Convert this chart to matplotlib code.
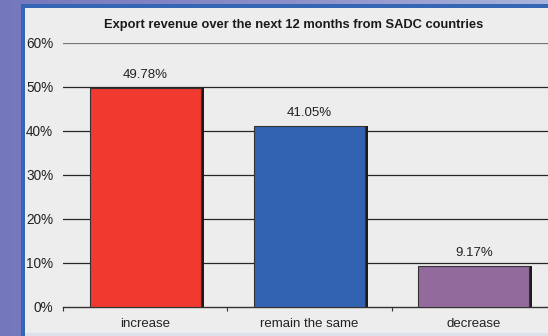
import matplotlib.pyplot as plt
import numpy as np
from matplotlib.patches import Rectangle

plt.rcParams['font.family'] = ['Liberation Sans', 'DejaVu Sans']

categories = ['increase', 'remain the same', 'decrease']
shares = [49.78, 41.05, 9.17]
colors = ['#f03a2f', '#3263b0', '#926a9c']
yticks = [0, 10, 20, 30, 40, 50, 60]
title = 'Export revenue over the next 12 months from SADC countries'

W, H = 548, 336
fig = plt.figure(figsize=(W / 100, H / 100), dpi=100)

# backdrop: purple gradient, blue frame, grey panel
bg = fig.add_axes([0, 0, 1, 1])
bg.set_xlim(0, W)
bg.set_ylim(H, 0)
bg.axis('off')
grad = np.linspace(0, 1, 256)[None, :]
bg.imshow(grad, extent=[0, W, H, 0], aspect='auto',
          cmap=plt.matplotlib.colors.LinearSegmentedColormap.from_list(
              'bgp', ['#7577bd', '#8a8ec8', '#aab4dc']))
bg.add_patch(Rectangle((21, 4), W, H, color='#3466b4', lw=0))
bg.add_patch(Rectangle((25, 8), W, 325, color='#ededed', lw=0))
bg.add_patch(Rectangle((25, 333), W, 3, color='#dde0e8', lw=0))

x0, x1 = 63, 556
ytop, ybot = 42.7, 306.7
ax = fig.add_axes([x0 / W, (H - ybot) / H, (x1 - x0) / W, (ybot - ytop) / H])
ax.patch.set_alpha(0)

pos = np.arange(len(categories))
for y in yticks[1:]:
    ax.axhline(y, color='#777777' if y == 60 else '#262626', lw=0.9, zorder=1)

bw = 0.675
# dark drop shadow on the right edge
ax.bar(pos + 0.018, shares, width=bw, color='#1e1a1a', lw=0, zorder=2)
ax.bar(pos, shares, width=bw, color=colors, edgecolor='#333333', lw=0.8, zorder=3)

for p, v in zip(pos, shares):
    ax.text(p, v + 1.6, f'{v:.2f}%', ha='center', va='bottom', fontsize=9.5, color='#222222')

ax.set_xlim(-0.5, 2.5)
ax.set_ylim(0, 60)
ax.set_yticks(yticks)
ax.set_yticklabels([f'{t}%' for t in yticks], fontsize=9.8, color='#222222')
ax.tick_params(axis='y', length=0, pad=7)
ax.set_xticks([-0.5, 0.5, 1.5])
ax.set_xticklabels([])
ax.tick_params(axis='x', length=3, width=0.8, color='#333333', direction='out')
for p, c in zip(pos, categories):
    ax.text(p, -2.5, c, ha='center', va='top', fontsize=9.5, color='#222222')
for s in ['top', 'right', 'left']:
    ax.spines[s].set_visible(False)
ax.spines['bottom'].set_color('#333333')
ax.spines['bottom'].set_linewidth(1.0)

fig.text(294 / W, 1 - 25 / H, title, ha='center', va='center',
         fontsize=9.3, fontweight='bold', color='#1a1a1a')

fig.savefig('out.png', dpi=100)
